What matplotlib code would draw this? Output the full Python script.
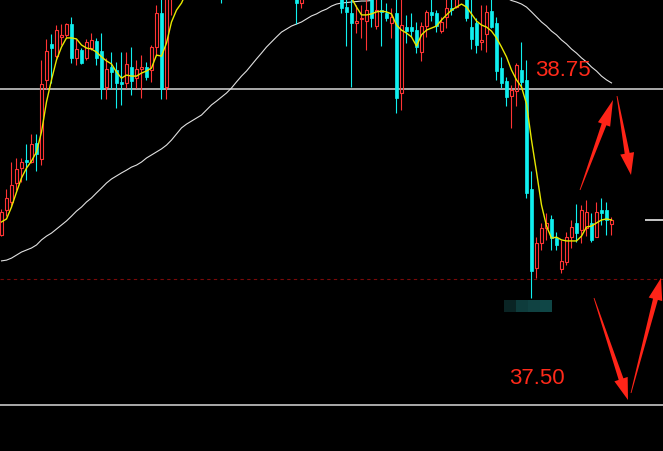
import numpy as np
import matplotlib
matplotlib.use('Agg')
import matplotlib.pyplot as plt
from matplotlib.patches import Polygon, Rectangle

nan = float('nan')

# OHLC (candles hidden above the top edge left as nan)
opens = [38.172, 38.271, 38.303, 38.378, 38.437, 38.469, 38.461, 38.536, 38.473, 38.786,
         38.928, 38.880, 38.956, 38.964, 39.007, 38.873, 38.904, 38.873, 38.912, 38.940,
         38.900, 38.758, 38.837, 38.825, 38.778, 38.774, 38.837, 38.793, 38.829, 38.837,
         38.825, 38.916, 39.051, 38.758, 39.120, nan, nan, nan, nan, nan,
         nan, nan, nan, nan, 39.200, nan, nan, nan, nan, nan,
         nan, nan, nan, nan, nan, nan, nan, nan, nan, 39.150,
         39.090, nan, nan, nan, nan, nan, nan, nan, 39.120, 39.074,
         39.051, 39.011, 39.027, 39.019, 39.114, 38.999, 39.062, 39.051, 39.011, 39.051,
         38.734, 38.995, 38.995, 38.983, 38.896, 38.999, 39.055, 39.051, 38.979, 39.035,
         39.070, 39.074, nan, 39.114, 38.995, 39.011, 38.936, 38.967, 39.058, 39.011,
         38.833, 38.782, 38.722, 38.742, 38.825, 38.786, 38.354, 38.042, 38.141, 38.200,
         38.236, 38.160, 38.038, 38.065, 38.164, 38.220, 38.192, 38.200, 38.220, 38.164,
         38.271, 38.271, 38.216]
highs = [38.275, 38.354, 38.461, 38.477, 38.477, 38.532, 38.572, 38.572, 38.865, 38.948,
         38.967, 39.003, 39.007, 39.011, 39.035, 38.948, 38.912, 38.948, 38.971, 38.952,
         38.971, 38.873, 38.896, 38.857, 38.896, 38.896, 38.916, 38.865, 38.884, 38.857,
         38.924, 39.082, 39.120, 39.180, 39.250, nan, nan, nan, nan, nan,
         nan, nan, nan, nan, 39.250, nan, nan, nan, nan, nan,
         nan, nan, nan, nan, nan, nan, nan, nan, nan, 39.200,
         39.200, nan, nan, nan, nan, nan, nan, nan, 39.150, 39.110,
         39.120, 39.082, 39.082, 39.120, 39.140, 39.120, 39.120, 39.090, 39.070, 39.120,
         39.120, 39.043, 39.051, 39.015, 39.015, 39.062, 39.120, 39.062, 39.035, 39.120,
         39.120, 39.130, nan, 39.140, 39.120, 39.031, 39.082, 39.082, 39.120, 39.035,
         38.877, 38.797, 38.766, 38.853, 38.936, 38.865, 38.426, 38.164, 38.220, 38.259,
         38.251, 38.184, 38.153, 38.184, 38.232, 38.295, 38.291, 38.311, 38.259, 38.303,
         38.319, 38.303, 38.244]
lows = [38.168, 38.247, 38.283, 38.350, 38.382, 38.390, 38.457, 38.426, 38.449, 38.750,
        38.774, 38.873, 38.924, 38.956, 38.853, 38.845, 38.849, 38.865, 38.904, 38.845,
        38.710, 38.710, 38.750, 38.675, 38.687, 38.754, 38.726, 38.754, 38.714, 38.786,
        38.778, 38.884, 38.710, 38.710, 39.043, nan, nan, nan, nan, nan,
        nan, nan, nan, nan, 39.090, nan, nan, nan, nan, nan,
        nan, nan, nan, nan, nan, nan, nan, nan, nan, 39.007,
        39.070, nan, nan, nan, nan, nan, nan, nan, 39.051, 38.920,
        38.758, 38.971, 38.952, 38.904, 38.995, 38.987, 38.920, 39.019, 38.952, 38.655,
        38.667, 38.932, 38.956, 38.892, 38.861, 38.956, 39.019, 38.975, 38.971, 38.991,
        39.043, 39.070, nan, 39.019, 38.908, 38.892, 38.904, 38.896, 38.991, 38.786,
        38.754, 38.683, 38.596, 38.683, 38.754, 38.319, 37.923, 38.002, 38.113, 38.153,
        38.113, 38.113, 38.022, 38.054, 38.121, 38.145, 38.141, 38.168, 38.145, 38.164,
        38.212, 38.172, 38.172]
closes = [38.263, 38.319, 38.370, 38.433, 38.461, 38.461, 38.532, 38.493, 38.770, 38.900,
          38.912, 38.983, 38.964, 39.007, 38.873, 38.908, 38.853, 38.936, 38.944, 38.873,
          38.750, 38.829, 38.817, 38.774, 38.770, 38.849, 38.782, 38.829, 38.837, 38.797,
          38.916, 39.051, 38.750, 39.140, 39.220, nan, nan, nan, nan, nan,
          nan, nan, nan, nan, 39.140, nan, nan, nan, nan, nan,
          nan, nan, nan, nan, nan, nan, nan, nan, nan, 39.090,
          39.150, nan, nan, nan, nan, nan, nan, nan, 39.070, 39.055,
          39.011, 39.019, 39.031, 39.062, 39.031, 39.062, 39.055, 39.031, 39.035, 38.714,
          39.003, 38.979, 38.979, 38.916, 38.999, 39.055, 39.043, 38.999, 39.015, 39.070,
          39.062, 39.114, nan, 39.031, 38.948, 38.924, 38.944, 39.055, 38.995, 38.821,
          38.774, 38.718, 38.746, 38.845, 38.778, 38.339, 38.030, 38.141, 38.200, 38.220,
          38.160, 38.133, 38.069, 38.164, 38.204, 38.180, 38.271, 38.263, 38.153, 38.263,
          38.259, 38.232, 38.232]

# short (yellow) and long (white) moving averages as drawn
ma_short = [38.224, 38.236, 38.283, 38.342, 38.398, 38.437, 38.465, 38.501, 38.580, 38.699,
            38.786, 38.865, 38.916, 38.952, 38.952, 38.948, 38.924, 38.912, 38.908, 38.896,
            38.877, 38.861, 38.849, 38.817, 38.793, 38.805, 38.801, 38.801, 38.813, 38.821,
            38.833, 38.884, 38.880, 38.932, 39.015, 39.062, 39.090, 39.134, nan, nan,
            nan, nan, nan, nan, nan, nan, nan, nan, nan, nan,
            nan, nan, nan, nan, nan, nan, nan, nan, nan, nan,
            nan, nan, nan, nan, nan, nan, nan, nan, nan, 39.134,
            39.110, 39.074, 39.043, 39.043, 39.047, 39.055, 39.058, 39.055, 39.047, 39.003,
            38.983, 38.971, 38.956, 38.920, 38.964, 38.983, 38.991, 38.999, 39.023, 39.043,
            39.062, 39.074, 39.086, 39.074, 39.047, 39.019, 39.003, 38.995, 38.979, 38.952,
            38.916, 38.877, 38.825, 38.786, 38.758, 38.691, 38.548, 38.422, 38.291, 38.208,
            38.160, 38.164, 38.153, 38.149, 38.149, 38.149, 38.168, 38.204, 38.208, 38.220,
            38.232, 38.236, 38.232]
ma_long = [38.070, 38.073, 38.081, 38.093, 38.105, 38.113, 38.121, 38.133, 38.153, 38.168,
           38.180, 38.196, 38.212, 38.228, 38.247, 38.267, 38.283, 38.303, 38.319, 38.339,
           38.358, 38.378, 38.394, 38.406, 38.418, 38.429, 38.441, 38.449, 38.461, 38.477,
           38.489, 38.501, 38.513, 38.528, 38.548, 38.572, 38.596, 38.611, 38.623, 38.635,
           38.647, 38.667, 38.687, 38.702, 38.718, 38.734, 38.754, 38.778, 38.801, 38.821,
           38.845, 38.869, 38.892, 38.916, 38.936, 38.956, 38.975, 38.987, 38.999, 39.007,
           39.015, 39.027, 39.039, 39.047, 39.058, 39.066, 39.078, 39.086, 39.090, 39.092,
           39.094, 39.096, 39.098, 39.098, 39.100, 39.114, 39.134, nan, nan, nan,
           nan, nan, nan, nan, nan, nan, nan, nan, nan, nan,
           nan, nan, nan, nan, nan, nan, nan, nan, nan, nan,
           39.126, 39.110, 39.100, 39.094, 39.086, 39.074, 39.055, 39.035, 39.015, 38.999,
           38.979, 38.964, 38.944, 38.928, 38.908, 38.892, 38.873, 38.857, 38.837, 38.821,
           38.801, 38.786, 38.774]

levels = [38.75, 37.50]
dashed_level = 38.00
last_price = 38.232
level_labels = ['38.75', '37.50']

RED = '#ff3434'
CYAN = '#10f0f0'

o = np.array(opens)
h = np.array(highs)
l = np.array(lows)
c = np.array(closes)
x = np.arange(len(o))
ok = ~np.isnan(o)
up = ok & (c >= o)
dn = ok & (c < o)

fig = plt.figure(figsize=(6.63, 4.51), dpi=100, facecolor='black')
ax = fig.add_axes([0, 0, 1, 1])
ax.set_facecolor('black')
ax.set_xlim(-0.3, 132.3)
ax.set_ylim(37.318, 39.102)
ax.axis('off')

# reference levels
for lv in levels:
    ax.axhline(lv, color='#d8d8d8', lw=1.1, zorder=1)
ax.axhline(dashed_level, color='#7a0a0a', lw=0.8, dashes=(3, 3), zorder=1)
ax.hlines(last_price, 128.7, 132.3, color='#e8e8e8', lw=1.2)

# moving averages
ax.plot(x, ma_long, color='#e0e0e0', lw=0.8, zorder=2)

# down candles: cyan, filled
ax.vlines(x[dn], l[dn], h[dn], color=CYAN, lw=0.8, zorder=3)
ax.bar(x[dn], np.maximum(o[dn] - c[dn], 0.003), bottom=c[dn], width=0.62,
       color=CYAN, edgecolor=CYAN, lw=0.5, zorder=4)

# up candles: red, hollow, wick stops at the body
body_top = np.maximum(c, o)
body_bot = np.minimum(c, o)
ax.vlines(x[up], body_top[up], h[up], color=RED, lw=0.8, zorder=3)
ax.vlines(x[up], l[up], body_bot[up], color=RED, lw=0.8, zorder=3)
ax.bar(x[up], np.maximum(c[up] - o[up], 0.003), bottom=o[up], width=0.62,
       fill=False, edgecolor=RED, lw=0.8, zorder=4)

ax.plot(x, ma_short, color='#e8e800', lw=1.0, zorder=5)

ax.text(106.7, 38.825, level_labels[0], color='#ff2a1a', fontsize=16,
        family='Liberation Sans', va='center', ha='left')
ax.text(101.5, 37.603, level_labels[1], color='#ff2a1a', fontsize=16,
        family='Liberation Sans', va='center', ha='left')

# overlay in pixel units for the hand drawn marks
ov = fig.add_axes([0, 0, 1, 1])
ov.set_xlim(0, 663)
ov.set_ylim(451, 0)
ov.axis('off')
ov.patch.set_alpha(0)

# teal tag under the low
tag_cols = ['#0a2424', '#0e3c3c', '#104242', '#0f4646']
for k, col in enumerate(tag_cols):
    ov.add_patch(Rectangle((504 + 12 * k, 300), 12, 12, color=col, lw=0))


def tapered_arrow(axis, tail, tip, head_len=22, head_w=14, shaft_w=5, tail_w=0.8, color='#ff2418'):
    tail = np.array(tail, float)
    tip = np.array(tip, float)
    d = (tip - tail) / np.linalg.norm(tip - tail)
    n = np.array([-d[1], d[0]])
    b = tip - d * head_len
    pts = [tail + n * tail_w / 2, b + n * shaft_w / 2, b + n * head_w / 2, tip,
           b - n * head_w / 2, b - n * shaft_w / 2, tail - n * tail_w / 2]
    axis.add_patch(Polygon(pts, closed=True, color=color, lw=0))


tapered_arrow(ov, (580, 190), (613, 100), head_len=26, head_w=13)
tapered_arrow(ov, (617, 96), (631, 175), head_len=22, head_w=14)
tapered_arrow(ov, (594, 298), (628, 400), head_len=22, head_w=14)
tapered_arrow(ov, (631, 393), (661, 278), head_len=22, head_w=14)

fig.savefig('out.png', dpi=100, facecolor='black')
